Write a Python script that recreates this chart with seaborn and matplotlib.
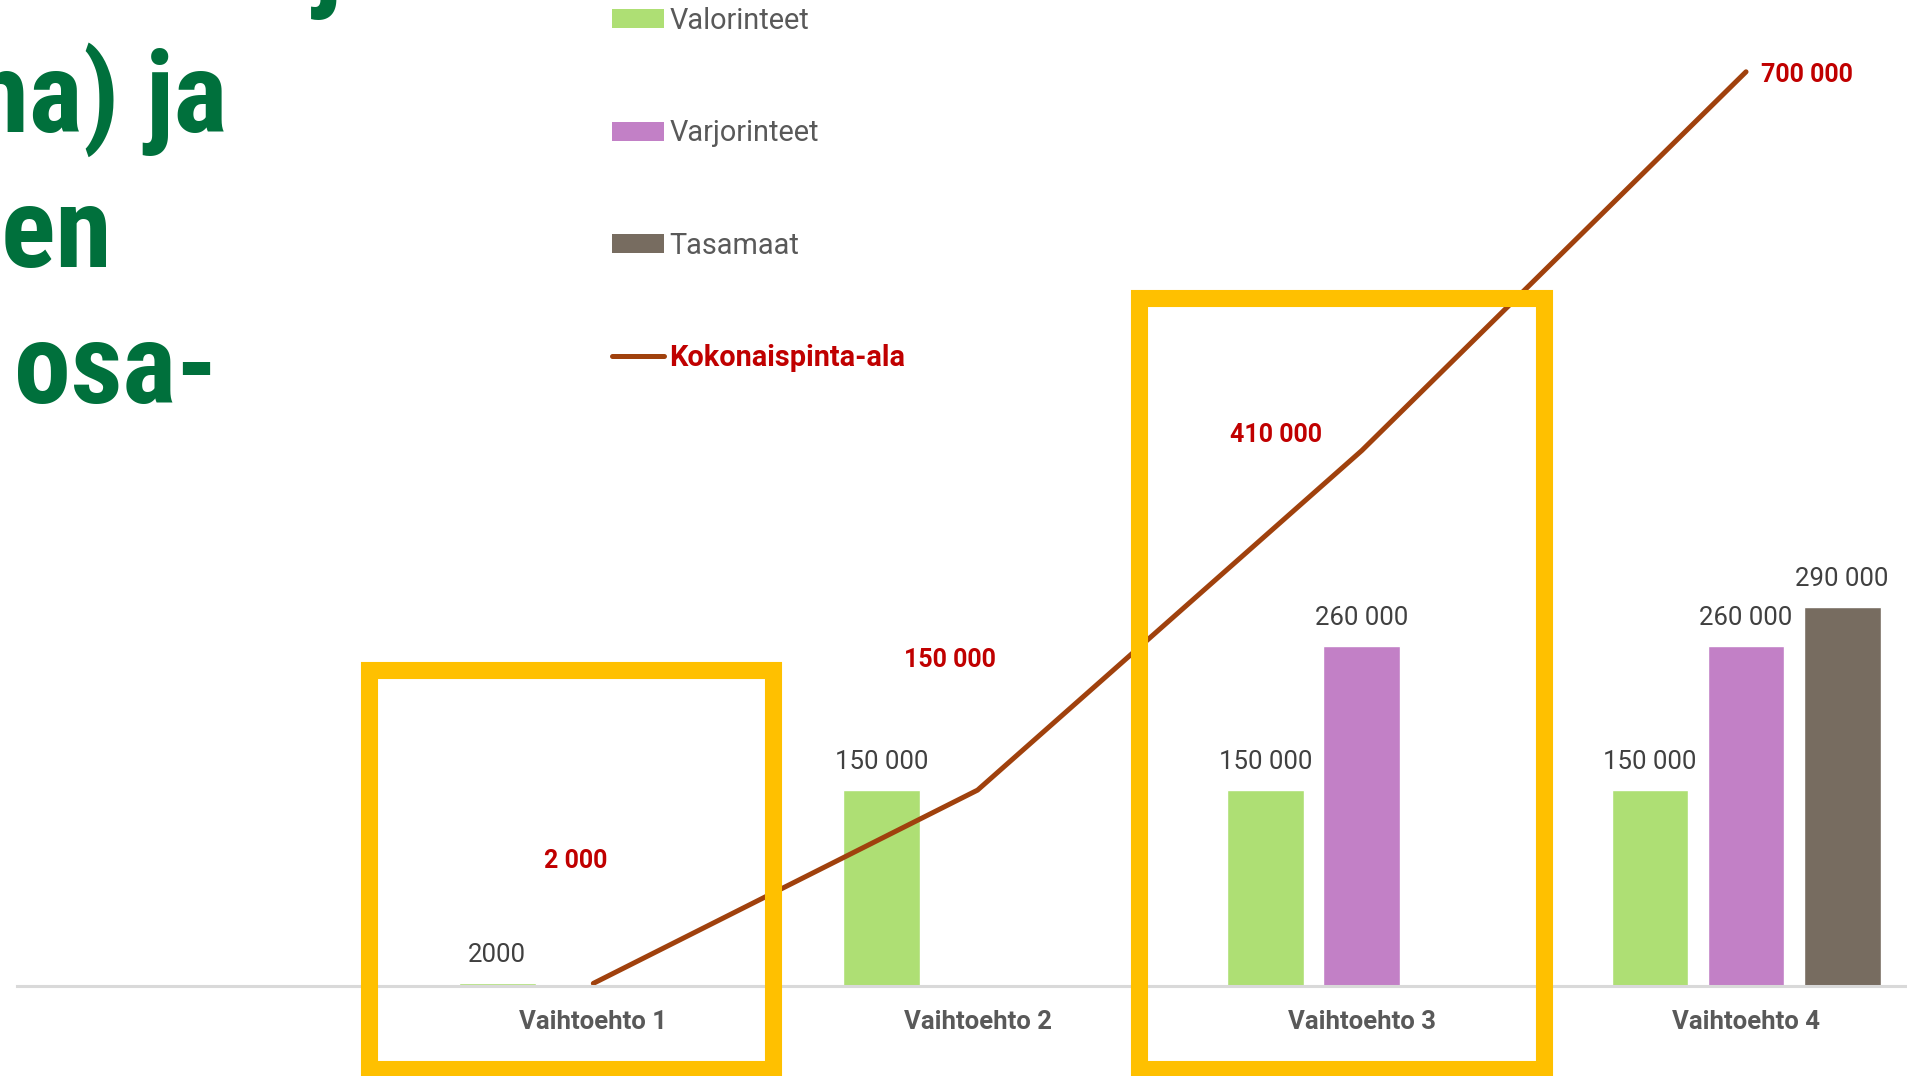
import numpy as np
import pandas as pd
import matplotlib
matplotlib.use("Agg")
import matplotlib.pyplot as plt
from matplotlib.patches import Rectangle, Patch
from matplotlib.lines import Line2D
import seaborn as sns

# ---------------- data ----------------
categories = ["Vaihtoehto 1", "Vaihtoehto 2", "Vaihtoehto 3", "Vaihtoehto 4"]
series_names = ["Valorinteet", "Varjorinteet", "Tasamaat"]
valorinteet = [2000, 150000, 150000, 150000]
varjorinteet = [None, None, 260000, 260000]
tasamaat = [None, None, None, 290000]
kokonaispinta_ala = [2000, 150000, 410000, 700000]
line_name = "Kokonaispinta-ala"
title_fragments = ["j", "(ha) ja", "nen", "osa-"]

# ---------------- style ----------------
colors = {"Valorinteet": "#AEDF74", "Varjorinteet": "#C280C6", "Tasamaat": "#776C60"}
line_color = "#A0410D"
label_red = "#C00000"
grey_text = "#595959"
bar_label_color = "#404040"
title_green = "#00703C"
box_yellow = "#FFC000"

sns.set_theme(style="white")
plt.rcParams["font.family"] = ["Roboto", "DejaVu Sans"]

W, H = 1908, 1076
fig = plt.figure(figsize=(W / 100, H / 100), dpi=100)

base_px = 986
ax = fig.add_axes([17 / W, (H - base_px) / H, (W - 17) / W, base_px / H])

rows = []
for name, vals in zip(series_names, [valorinteet, varjorinteet, tasamaat]):
    for c, v in zip(categories, vals):
        if v is not None:
            rows.append({"Vaihtoehto": c, "Sarja": name, "Arvo": v})
df = pd.DataFrame(rows)

sns.barplot(data=df, x="Vaihtoehto", y="Arvo", hue="Sarja", order=categories,
            hue_order=series_names, palette=colors, width=0.75, gap=0.2,
            saturation=1, errorbar=None, legend=False, ax=ax)

def fmt(v):
    return f"{v:.0f}" if v < 10000 else f"{v:,.0f}".replace(",", " ")

def fmt_sp(v):
    return f"{v:,.0f}".replace(",", " ")

for cont in ax.containers:
    labels = [fmt(b.get_height()) for b in cont]
    ax.bar_label(cont, labels=labels, padding=11.5, fontsize=18.5, color=bar_label_color)

xpos = np.arange(len(categories))
sns.lineplot(x=xpos, y=kokonaispinta_ala, color=line_color, linewidth=3.6,
             solid_capstyle="round", ax=ax, legend=False)

# labels of the total line (offsets in points)
offsets = [(-13, 88), (-20, 93.5), (-62, 11.5), (44, -2.6)]
for x, v, off in zip(xpos, kokonaispinta_ala, offsets):
    ax.annotate(fmt_sp(v), (x, v), xytext=off, textcoords="offset points",
                ha="center", va="center", fontsize=18, fontweight="bold", color=label_red)

ax.set_xlim(-1.5, 3 + 162 / 384.3)
ax.set_ylim(0, base_px / 1.306e-3)
ax.set_xlabel("")
ax.set_ylabel("")
ax.set_yticks([])
ax.tick_params(axis="x", length=0, pad=17.5, labelsize=18.5, labelcolor=grey_text)
for t in ax.get_xticklabels():
    t.set_fontweight("bold")
for s in ["top", "left", "right"]:
    ax.spines[s].set_visible(False)
ax.spines["bottom"].set_color("#D9D9D9")
ax.spines["bottom"].set_linewidth(2.2)
ax.patch.set_alpha(0)

# legend
handles = [Patch(facecolor=colors[n], edgecolor="none") for n in series_names]
handles.append(Line2D([0], [0], color=line_color, lw=3.6, solid_capstyle="round"))
leg = fig.legend(handles, series_names + [line_name], loc="upper left",
                 bbox_to_anchor=(612 / W, 1 - 7 / H), frameon=False, fontsize=20.8,
                 borderpad=0, borderaxespad=0, labelspacing=2.92, handlelength=1.8,
                 handleheight=0.63, handletextpad=0.18)
for i, t in enumerate(leg.get_texts()):
    if i < 3:
        t.set_color(grey_text)
    else:
        t.set_color(label_red)
        t.set_fontweight("bold")

# yellow highlight boxes (stroke centre lines, pixel coords)
lw_box = 12.3
for (x0, x1, ytop) in [(369, 772.5, 669.5), (1139, 1544, 297.5)]:
    ybot = 1069
    fig.add_artist(Rectangle((x0 / W, 1 - ybot / H), (x1 - x0) / W, (ybot - ytop) / H,
                             transform=fig.transFigure, fill=False, edgecolor=box_yellow,
                             linewidth=lw_box, joinstyle="miter", zorder=5))

# cut-off green title text on the left
tfam = ["Liberation Sans Narrow", "Roboto Condensed", "Liberation Sans", "DejaVu Sans"]
for txt, xr, yb in zip(title_fragments, [342, 227, 112, 218], [-4, 132, 267, 403]):
    fig.text(xr / W, 1 - yb / H, txt, ha="right", va="baseline", fontsize=82,
             fontweight="bold", color=title_green, family=tfam)

fig.savefig("out.png", dpi=100)
